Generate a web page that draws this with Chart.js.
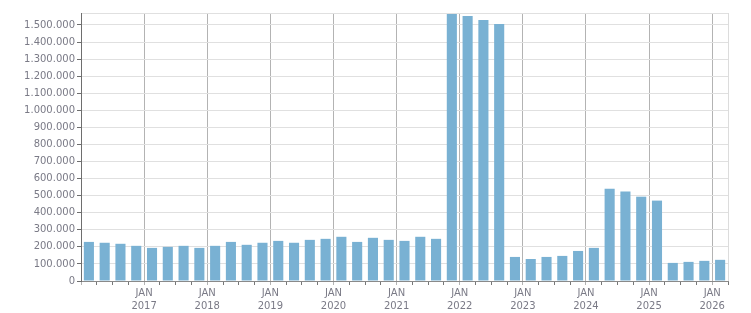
<!DOCTYPE html>
<html lang="de">
<head>
  <meta charset="UTF-8">
  <title>Quarterly values</title>
  <script src="https://cdn.jsdelivr.net/npm/chart.js"></script>
  <style>
    html, body { margin: 0; padding: 0; background: #fff; }
    canvas { display: block; }
  </style>
</head>
<body>
  <canvas id="chart" width="751" height="313"></canvas>

  <script>
    // Quarters, Q1 2016 .. Q1 2026
    const quarters = [
      '2016 Q1', '2016 Q2', '2016 Q3', '2016 Q4',
      '2017 Q1', '2017 Q2', '2017 Q3', '2017 Q4',
      '2018 Q1', '2018 Q2', '2018 Q3', '2018 Q4',
      '2019 Q1', '2019 Q2', '2019 Q3', '2019 Q4',
      '2020 Q1', '2020 Q2', '2020 Q3', '2020 Q4',
      '2021 Q1', '2021 Q2', '2021 Q3', '2021 Q4',
      '2022 Q1', '2022 Q2', '2022 Q3', '2022 Q4',
      '2023 Q1', '2023 Q2', '2023 Q3', '2023 Q4',
      '2024 Q1', '2024 Q2', '2024 Q3', '2024 Q4',
      '2025 Q1', '2025 Q2', '2025 Q3', '2025 Q4',
      '2026 Q1'
    ];

    const values = [
      229000, 224000, 218000, 206000,
      194000, 200000, 206000, 194000,
      206000, 229000, 212000, 224000,
      235000, 224000, 241000, 247000,
      259000, 229000, 253000, 241000,
      235000, 259000, 247000, 1564000,
      1552000, 1529000, 1506000, 141000,
      129000, 141000, 147000, 176000,
      194000, 541000, 524000, 494000,
      471000, 106000, 112000, 118000,
      124000
    ];

    // one entry per January boundary (index = quarter / 4)
    const yearTicks = ['2016', '2017', '2018', '2019', '2020', '2021', '2022', '2023', '2024', '2025', '2026'];
    const monthTick = 'JAN';

    // y ticks; the last one is the top edge and carries no label
    const yMax = 1570000;
    const yTicks = [0, 100000, 200000, 300000, 400000, 500000, 600000, 700000,
      800000, 900000, 1000000, 1100000, 1200000, 1300000, 1400000, 1500000, yMax];

    const labelColor = '#7a7a86';
    const fmt = v => String(v).replace(/\B(?=(\d{3})+(?!\d))/g, '.');

    Chart.defaults.font.family = '"DejaVu Sans", Verdana, sans-serif';
    Chart.defaults.font.size = 10;
    Chart.defaults.color = labelColor;

    new Chart(document.getElementById('chart'), {
      type: 'bar',
      data: {
        labels: quarters,
        datasets: [{
          data: values,
          backgroundColor: '#79b1d3',
          borderWidth: 0,
          barPercentage: 0.64,
          categoryPercentage: 1
        }]
      },
      options: {
        responsive: false,
        animation: false,
        devicePixelRatio: 1,
        layout: { padding: { top: 13, right: 23, left: 0, bottom: 0 } },
        plugins: { legend: { display: false }, tooltip: { enabled: false } },
        scales: {
          x: {
            type: 'category',
            display: false,
            offset: true
          },
          // quarter boundaries, used for gridlines and JAN labels
          xq: {
            type: 'linear',
            position: 'bottom',
            min: 0,
            max: quarters.length,
            offset: false,
            afterFit: s => { s.height = 32; },
            border: { display: true, color: '#8a8a8a', width: 1 },
            grid: {
              offset: false,
              color: ctx => {
                const v = ctx.tick ? ctx.tick.value : -1;
                if (v === quarters.length) return '#dcdcdc';
                return v % 4 === 0 ? '#b3b3b3' : 'rgba(0,0,0,0)';
              },
              tickColor: ctx => (ctx.tick && ctx.tick.value % 4 === 0) ? '#b3b3b3' : '#777',
              tickLength: 4,
              lineWidth: 1
            },
            ticks: {
              stepSize: 1,
              maxTicksLimit: 100,
              autoSkip: false,
              maxRotation: 0,
              padding: 2,
              font: { lineHeight: 1.3 },
              callback: v => (v % 4 === 0 && v > 0 && v / 4 < yearTicks.length) ? [monthTick, yearTicks[v / 4]] : ''
            }
          },
          y: {
            min: 0,
            max: yMax,
            afterFit: s => { s.width = 81; },
            afterBuildTicks: s => { s.ticks = yTicks.map(v => ({ value: v })); },
            border: { display: true, color: '#6e6e6e', width: 1 },
            grid: {
              color: '#e0e0e0',
              lineWidth: 1,
              tickLength: 4,
              tickColor: ctx => (ctx.tick && ctx.tick.value === yMax) ? 'rgba(0,0,0,0)' : '#6e6e6e'
            },
            ticks: {
              padding: 2,
              callback: v => v === yMax ? '' : fmt(v)
            }
          }
        }
      }
    });
  </script>
</body>
</html>
